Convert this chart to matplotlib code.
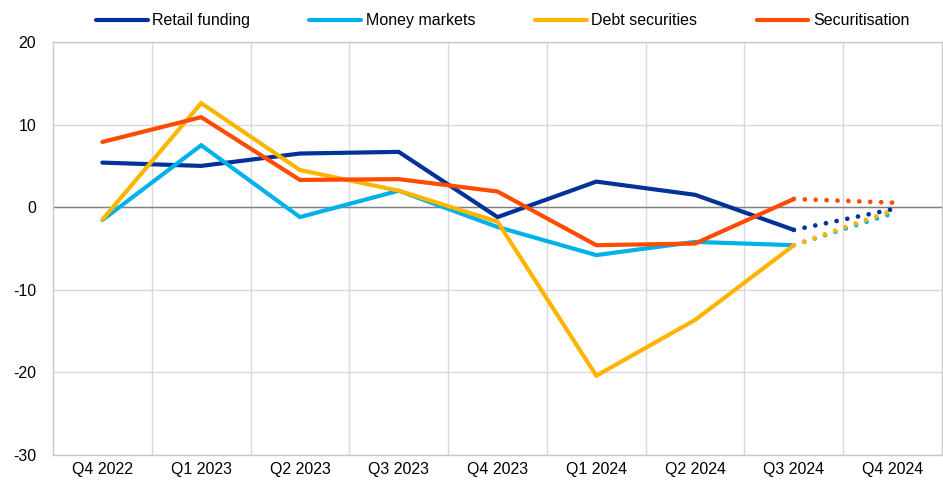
import matplotlib
matplotlib.use("Agg")
import matplotlib.pyplot as plt
import numpy as np

plt.rcParams['font.family'] = ['Liberation Sans', 'DejaVu Sans']
plt.rcParams['axes.unicode_minus'] = False

categories = ["Q4 2022", "Q1 2023", "Q2 2023", "Q3 2023", "Q4 2023",
              "Q1 2024", "Q2 2024", "Q3 2024", "Q4 2024"]
retail_funding = [5.4, 5.0, 6.5, 6.7, -1.2, 3.1, 1.5, -2.75, -0.25]
money_markets = [-1.55, 7.5, -1.2, 2.0, -2.4, -5.8, -4.2, -4.6, -0.75]
debt_securities = [-1.5, 12.6, 4.5, 2.0, -1.75, -20.4, -13.65, -4.6, -0.4]
securitisation = [7.9, 10.9, 3.3, 3.4, 1.9, -4.6, -4.4, 1.0, 0.55]

series = [("Retail funding", retail_funding, "#003299"),
          ("Money markets", money_markets, "#00B1EA"),
          ("Debt securities", debt_securities, "#FFB400"),
          ("Securitisation", securitisation, "#FF4B00")]

fig = plt.figure(figsize=(9.43, 4.83), dpi=100)
ax = fig.add_axes([0.0562, 0.058, 0.9428, 0.855])

x = np.arange(len(categories))
n_solid = len(categories) - 1  # last point is dotted projection
handles = []
for name, vals, col in series:
    h, = ax.plot(x[:n_solid], vals[:n_solid], color=col, lw=3,
                 solid_capstyle='round', solid_joinstyle='miter', label=name, zorder=3)
    ax.plot(x[n_solid - 1:], vals[n_solid - 1:], color=col, lw=3.4,
            linestyle=(0, (0.01, 2.3)), dash_capstyle='round', zorder=3)
    handles.append(h)

ax.set_xlim(-0.5, len(categories) - 0.5)
ax.set_ylim(-30, 20)
ax.set_yticks([-30, -20, -10, 0, 10, 20])
ax.set_xticks(x)
ax.set_xticklabels(categories)
ax.set_xticks(np.arange(0.5, len(categories) - 1, 1), minor=True)
ax.grid(False)
ax.yaxis.grid(True, color="#d9d9d9", lw=1)
ax.xaxis.grid(True, which='minor', color="#d9d9d9", lw=1)
ax.set_axisbelow(True)
ax.axhline(0, color="#808080", lw=1, zorder=2)
ax.tick_params(axis='both', which='both', length=0, labelsize=11.5, colors="#000000")
ax.tick_params(axis='x', pad=5)
ax.tick_params(axis='y', pad=12)
for s in ax.spines.values():
    s.set_color("#c8c8c8")
    s.set_linewidth(1)

leg = fig.legend(handles=handles, loc='center', bbox_to_anchor=(0.533, 0.957),
                 ncol=4, frameon=False, fontsize=11.5, handlelength=3.25,
                 handletextpad=0.3, columnspacing=3.7)

fig.savefig("out.png", dpi=100)
